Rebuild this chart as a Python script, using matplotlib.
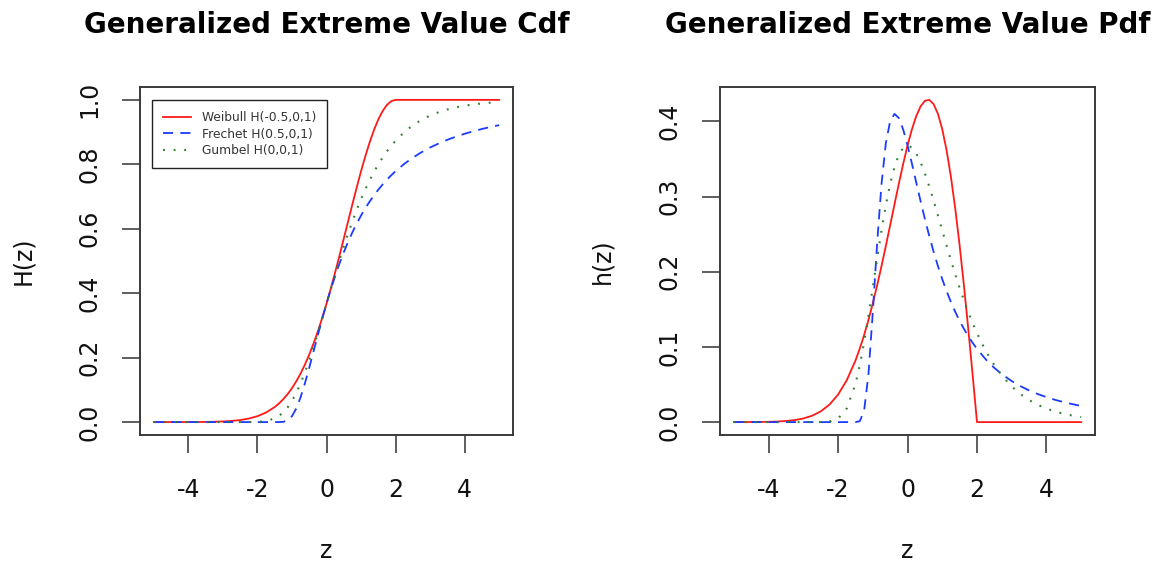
import matplotlib
matplotlib.use("Agg")
import matplotlib.pyplot as plt

# grid of z values the curves are sampled at
z = [-5, -4.75, -4.5, -4.25, -4, -3.75, -3.5, -3.25, -3, -2.75, -2.5, -2.25, -2, -1.75, -1.5,
     -1.375, -1.25, -1.125, -1, -0.875, -0.75, -0.625, -0.5, -0.375, -0.25, -0.125, 0,
     0.125, 0.25, 0.375, 0.5, 0.625, 0.75, 0.875, 1, 1.125, 1.25, 1.375, 1.5, 1.625, 1.75, 1.875,
     2, 2.25, 2.5, 2.75, 3, 3.25, 3.5, 3.75, 4, 4.25, 4.5, 4.75, 5]

# cdf values
weibull_cdf = [0.000005, 0.000011, 0.000026, 0.000057, 0.000123, 0.000257, 0.000520, 0.001017,
               0.001930, 0.003551, 0.006330, 0.010937, 0.018316, 0.029729, 0.046771,
               0.05798, 0.071317, 0.08704, 0.105399, 0.12664, 0.15098, 0.17858, 0.20961,
               0.24410, 0.28206, 0.32339, 0.367879, 0.41524, 0.46504, 0.51675, 0.56978,
               0.62332, 0.67663, 0.72877, 0.778801, 0.82580, 0.86882, 0.90696, 0.93941,
               0.96545, 0.98450, 0.99610,
               1.0, 1.0, 1.0, 1.0, 1.0, 1.0, 1.0, 1.0, 1.0, 1.0, 1.0, 1.0, 1.0]
frechet_cdf = [0, 0, 0, 0, 0, 0, 0, 0, 0, 0, 0, 0, 0, 0, 0,
               0.000036, 0.000816, 0.005383, 0.018316, 0.042405, 0.077305, 0.120548, 0.169013,
               0.219855, 0.270869, 0.320529, 0.367879, 0.41238, 0.453789, 0.49207, 0.527292,
               0.55962, 0.589238, 0.61636, 0.641180, 0.66392, 0.684752, 0.70387, 0.721422,
               0.73757, 0.752432, 0.76614,
               0.778801, 0.801354, 0.820755, 0.837541, 0.852144, 0.864914, 0.876138, 0.886048,
               0.894839, 0.902668, 0.909668, 0.915952, 0.921610]
gumbel_cdf = [0, 0, 0, 0, 0, 0, 0, 0, 0, 0.0000002, 0.000005, 0.000076, 0.000618, 0.003168, 0.011314,
              0.019157, 0.030490, 0.045951, 0.065988, 0.090818, 0.120392, 0.154401, 0.192297,
              0.23340, 0.276920, 0.32202, 0.367879, 0.41375, 0.458956, 0.50294, 0.545240,
              0.58551, 0.623525, 0.65911, 0.692201, 0.72278, 0.750883, 0.77659, 0.80001,
              0.82126, 0.84049, 0.85783,
              0.87342, 0.899966, 0.921193, 0.938073, 0.951432, 0.961968, 0.970255, 0.976759,
              0.981851, 0.985837, 0.988952, 0.991385, 0.993285]

# pdf values
weibull_pdf = [0.000017, 0.000038, 0.000084, 0.000179, 0.000370, 0.000739, 0.001429, 0.002670,
               0.004826, 0.008433, 0.014242, 0.023241, 0.036632, 0.055742, 0.081849,
               0.09784, 0.11589, 0.13600, 0.15810, 0.18205, 0.20760, 0.23439, 0.26201,
               0.28987, 0.31732, 0.34360, 0.36788, 0.38929, 0.40691, 0.41986, 0.42734,
               0.42853, 0.42289, 0.40993, 0.38940, 0.36129, 0.32581, 0.28343, 0.23485,
               0.18102, 0.12306, 0.06226,
               0, 0, 0, 0, 0, 0, 0, 0, 0, 0, 0, 0, 0]
frechet_pdf = [0, 0, 0, 0, 0, 0, 0, 0, 0, 0, 0, 0, 0, 0, 0,
               0.00117, 0.01547, 0.06428, 0.14653, 0.23826, 0.31664, 0.37098, 0.40062,
               0.40990, 0.40433, 0.38900, 0.36788, 0.34381, 0.31871, 0.29385, 0.26997,
               0.24751, 0.22666, 0.20749, 0.18998, 0.17404, 0.15958, 0.14647, 0.13461,
               0.12387, 0.11415, 0.10534,
               0.09735, 0.08351, 0.07205, 0.06252, 0.05454, 0.04782, 0.04213, 0.03729,
               0.03314, 0.02958, 0.02650, 0.02383, 0.02150]
gumbel_pdf = [0, 0, 0, 0, 0, 0, 0, 0, 0, 0.0000025, 0.000062, 0.000719, 0.004566, 0.018232, 0.050705,
              0.07577, 0.10642, 0.14154, 0.17937, 0.21786, 0.25487, 0.28845, 0.31704,
              0.33960, 0.35557, 0.36489, 0.36788, 0.36513, 0.35744, 0.34567, 0.33070,
              0.31340, 0.29453, 0.27476, 0.25465, 0.23465, 0.21513, 0.19635, 0.17851,
              0.16172, 0.14605, 0.13155,
              0.11820, 0.09486, 0.07562, 0.05997, 0.04737, 0.03730, 0.02930, 0.02297,
              0.01798, 0.01406, 0.01099, 0.00858, 0.00669]

labels = ["Weibull H(-0.5,0,1)", "Frechet H(0.5,0,1)", "Gumbel H(0,0,1)"]
x_ticks = [-4, -2, 0, 2, 4]
cdf_ticks = [0.0, 0.2, 0.4, 0.6, 0.8, 1.0]
pdf_ticks = [0.0, 0.1, 0.2, 0.3, 0.4]

plt.rcParams["font.family"] = ["DejaVu Sans"]

fig = plt.figure(figsize=(11.61, 5.63), dpi=100)
ax1 = fig.add_axes([0.1206, 0.2274, 0.3213, 0.6181])
ax2 = fig.add_axes([0.6202, 0.2274, 0.3230, 0.6181])


def draw_panel(ax, w, f, g, title, ylab, yticks):
    ax.plot(z, w, color="#ff1a1a", lw=1.3, label=labels[0])
    ax.plot(z, f, color="#1a3cff", lw=1.3, dashes=(5.6, 4.0), label=labels[1])
    ax.plot(z, g, color="#2f7f2f", lw=1.5, dashes=(0.9, 4.2), label=labels[2])
    ax.margins(x=0.04, y=0.04)
    ax.set_xticks(x_ticks)
    ax.set_xticklabels([str(t) for t in x_ticks])
    ax.set_yticks(yticks)
    ax.set_yticklabels([f"{t:.1f}" for t in yticks])
    for sp in ax.spines.values():
        sp.set_color("#3a3a3a")
        sp.set_linewidth(1.4)
    ax.tick_params(axis="both", direction="out", length=13, width=1.1,
                   color="#333333", labelsize=17, labelcolor="#111111")
    ax.tick_params(axis="x", pad=18)
    ax.tick_params(axis="y", pad=15, labelrotation=90)
    for lbl in ax.get_yticklabels():
        lbl.set_va("center")
    ax.set_title(title, fontsize=20, fontweight="bold", pad=39)
    ax.set_xlabel("z", fontsize=17, va="center", color="#111111")
    ax.xaxis.set_label_coords(0.5, -0.333)
    ax.set_ylabel(ylab, fontsize=17, va="center", color="#111111")
    ax.yaxis.set_label_coords(-0.314, 0.5)


draw_panel(ax1, weibull_cdf, frechet_cdf, gumbel_cdf,
           "Generalized Extreme Value Cdf", "H(z)", cdf_ticks)
draw_panel(ax2, weibull_pdf, frechet_pdf, gumbel_pdf,
           "Generalized Extreme Value Pdf", "h(z)", pdf_ticks)

leg = ax1.legend(loc="upper left", bbox_to_anchor=(0.032, 0.963), borderaxespad=0,
                 fontsize=8.8, handlelength=2.3, handletextpad=0.9, borderpad=0.9,
                 labelspacing=0.3, fancybox=False, framealpha=1)
leg.get_frame().set_edgecolor("#222222")
leg.get_frame().set_linewidth(1.0)
for txt in leg.get_texts():
    txt.set_color("#333333")

fig.savefig("out.png", dpi=100)
